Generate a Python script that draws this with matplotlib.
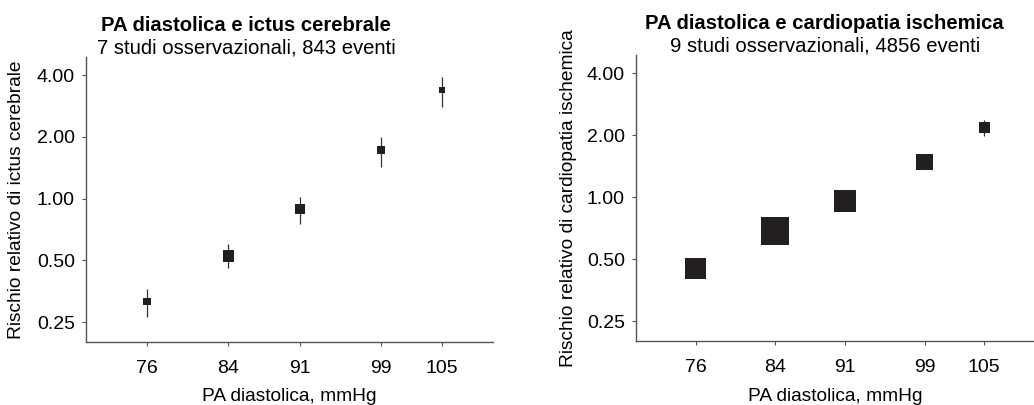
import numpy as np
import matplotlib.pyplot as plt
from matplotlib.ticker import FixedLocator, NullLocator

plt.rcParams["font.family"] = ["Liberation Sans", "DejaVu Sans"]

# Fasce di PA diastolica (mmHg)
dbp = [76, 84, 91, 99, 105]

# Ictus cerebrale: rischio relativo e IC 95%
stroke_rr = [0.315, 0.526, 0.887, 1.716, 3.38]
stroke_lo = [0.266, 0.46, 0.753, 1.43, 2.81]
stroke_hi = [0.363, 0.598, 1.02, 2.0, 3.92]
stroke_box = [5.6, 8.2, 7.2, 5.8, 4.8]   # lato del quadrato (pt), peso dello studio

# Cardiopatia ischemica: rischio relativo e IC 95%
chd_rr = [0.449, 0.687, 0.956, 1.48, 2.18]
chd_lo = [0.42, 0.65, 0.91, 1.40, 1.99]
chd_hi = [0.48, 0.73, 1.01, 1.57, 2.38]
chd_box = [15.3, 20.2, 16.3, 12.0, 7.7]

yticks = [0.25, 0.5, 1.0, 2.0, 4.0]
ytick_labels = ["0.25", "0.50", "1.00", "2.00", "4.00"]

INK = "#231f20"
AXIS = "#555555"


def panel(ax, rr, lo, hi, box, title, subtitle, ylabel, title_x, ylab_x, xlab_y):
    rr = np.array(rr)
    err = [rr - np.array(lo), np.array(hi) - rr]
    ax.errorbar(dbp, rr, yerr=err, fmt="none", ecolor="#333333", elinewidth=0.9, capsize=0, zorder=2)
    ax.scatter(dbp, rr, marker="s", s=np.array(box) ** 2, color=INK, linewidths=0, zorder=3)
    ax.set_yscale("log")
    ax.set_ylim(0.2, 4.9)
    ax.set_xlim(70, 110)
    ax.yaxis.set_major_locator(FixedLocator(yticks))
    ax.yaxis.set_minor_locator(NullLocator())
    ax.set_yticklabels(ytick_labels)
    ax.set_xticks(dbp)
    ax.set_xticklabels([str(v) for v in dbp])
    for s in ["top", "right"]:
        ax.spines[s].set_visible(False)
    for s in ["left", "bottom"]:
        ax.spines[s].set_color(AXIS)
        ax.spines[s].set_linewidth(1.0)
    ax.tick_params(axis="y", length=3, width=0.8, color=AXIS, pad=5, labelsize=14)
    ax.tick_params(axis="x", length=3, width=0.8, color=AXIS, pad=10, labelsize=14)
    ax.set_xlabel("PA diastolica, mmHg", fontsize=13.8)
    ax.set_ylabel(ylabel, fontsize=13.8)
    ax.xaxis.set_label_coords(0.5, xlab_y)
    ax.yaxis.set_label_coords(ylab_x, 0.5)
    ax.text(title_x, 1.111, title, transform=ax.transAxes, ha="center", va="center",
            fontsize=14.6, fontweight="bold")
    ax.text(title_x, 1.033, subtitle, transform=ax.transAxes, ha="center", va="center",
            fontsize=14.6)


fig = plt.figure(figsize=(10.34, 4.05), dpi=100)
ax1 = fig.add_axes([0.0832, 0.1556, 0.3936, 0.7037])
ax2 = fig.add_axes([0.6151, 0.158, 0.3849, 0.7062])

panel(ax1, stroke_rr, stroke_lo, stroke_hi, stroke_box,
      "PA diastolica e ictus cerebrale", "7 studi osservazionali, 843 eventi",
      "Rischio relativo di ictus cerebrale", 0.394, -0.150, -0.160)
panel(ax2, chd_rr, chd_lo, chd_hi, chd_box,
      "PA diastolica e cardiopatia ischemica", "9 studi osservazionali, 4856 eventi",
      "Rischio relativo di cardiopatia ischemica", 0.474, -0.149, -0.163)

fig.savefig("out.png", dpi=100)
